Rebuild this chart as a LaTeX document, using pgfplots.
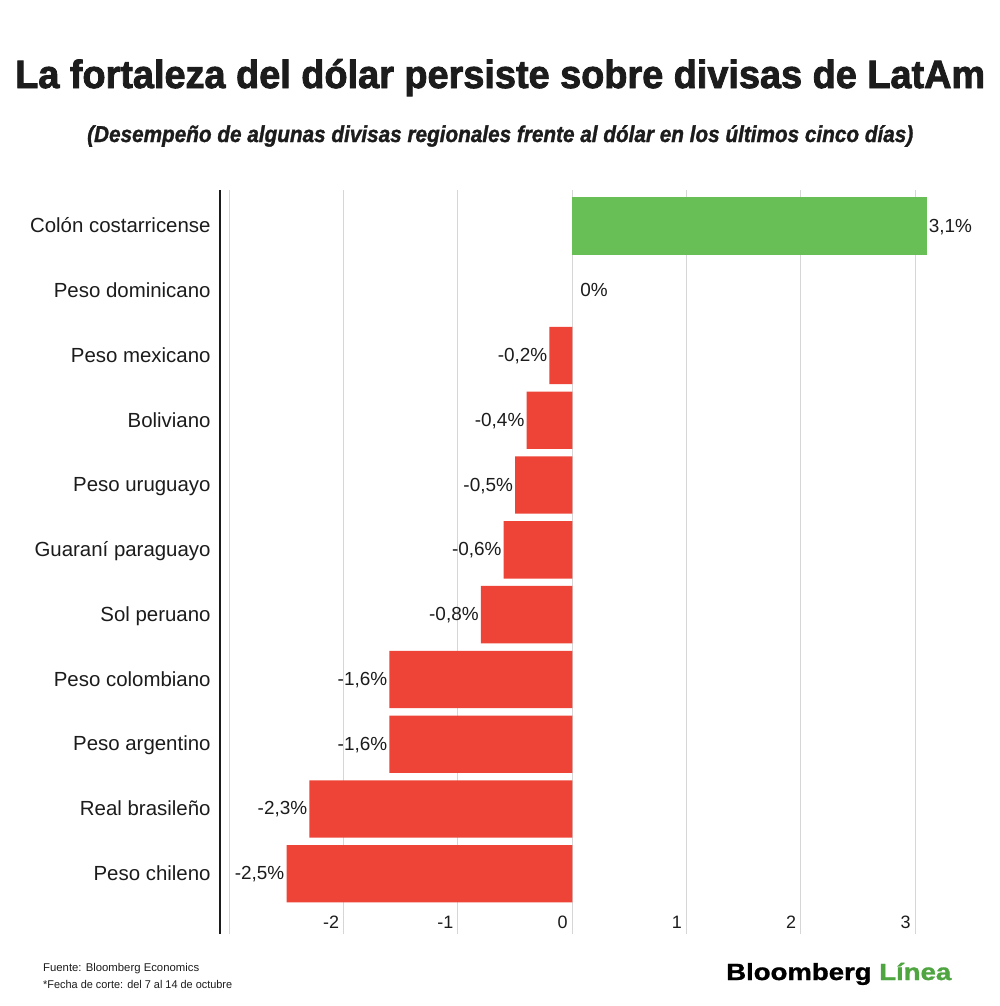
\documentclass[border=0pt]{standalone}
\usepackage{pgfplots}
\pgfplotsset{compat=1.18}
\usepackage{fontspec}
\setmainfont{Liberation Sans}
\newfontfamily\titlefont[FakeBold=2.2]{Liberation Sans Bold}
\newfontfamily\subfont[FakeBold=1.4]{Liberation Sans Bold Italic}
\newfontfamily\logofont[FakeBold=1.2]{Liberation Sans Bold}
\usepackage{graphicx}
\definecolor{barred}{HTML}{EE4438}
\definecolor{bargreen}{HTML}{68BF55}
\definecolor{logogreen}{HTML}{4FA540}
\definecolor{txt}{HTML}{1C1C1C}
\definecolor{gridgray}{HTML}{D6D6D6}
\begin{document}
\begin{tikzpicture}
\path[fill=white] (0,0) rectangle (1000bp,-1006bp);
% title and subtitle
\node[anchor=base west, inner sep=0, text=txt] at (15bp,-88bp)
  {\resizebox{970bp}{\height}{\fontsize{39.5}{39.5}\selectfont\titlefont La fortaleza del dólar persiste sobre divisas de LatAm}};
\node[anchor=base west, inner sep=0, text=txt] at (87bp,-142bp)
  {\resizebox{826bp}{\height}{\fontsize{23}{23}\selectfont\subfont (Desempeño de algunas divisas regionales frente al dólar en los últimos cinco días)}};
\begin{axis}[
  at={(220bp,-934bp)}, anchor=south west,
  scale only axis, width=729.46bp, height=744bp,
  xmin=-3.082, xmax=3.3, ymin=-0.931, ymax=10.556,
  clip=false,
  xbar, bar width=57.3bp, bar shift=0pt,
  separate axis lines,
  axis x line*=bottom, axis y line*=left,
  x axis line style={draw=none},
  y axis line style={draw=txt, line width=2bp, -},
  tick style={draw=none},
  xmajorgrids=true, ymajorgrids=false,
  major grid style={draw=gridgray, line width=1bp},
  xtick={-3,-2,-1,0,1,2,3},
  xticklabels={,-2,-1,0,1,2,3},
  xticklabel style={anchor=base east, inner sep=0pt, xshift=-4.5bp, yshift=6bp,
    font=\fontsize{18}{18}\selectfont, text=txt},
  ytick={0,1,2,3,4,5,6,7,8,9,10},
  yticklabels={Peso chileno,Real brasileño,Peso argentino,Peso colombiano,Sol peruano,Guaraní paraguayo,Peso uruguayo,Boliviano,Peso mexicano,Peso dominicano,Colón costarricense},
  yticklabel style={anchor=base east, inner sep=0pt, xshift=-5bp, yshift=-6.8bp,
    font=\fontsize{20.5}{20.5}\selectfont, text=txt},
  nodes near coords={\pgfplotspointmeta},
  nodes near coords style={font=\fontsize{19}{19}\selectfont, text=txt, inner sep=0pt},
]
\addplot[fill=bargreen, draw=none, point meta=explicit symbolic,
  nodes near coords style={anchor=base west, xshift=2bp, yshift=-6bp}]
  coordinates {(3.1,10) [3,1\%]};
\addplot[draw=none, fill=none, point meta=explicit symbolic,
  nodes near coords style={anchor=base west, xshift=8bp, yshift=-6bp}]
  coordinates {(0,9) [0\%]};
\addplot[fill=barred, draw=none, point meta=explicit symbolic,
  nodes near coords style={anchor=base east, xshift=-2bp, yshift=-6bp}]
  coordinates {
    (-0.2,8) [-0,2\%]
    (-0.4,7) [-0,4\%]
    (-0.5,6) [-0,5\%]
    (-0.6,5) [-0,6\%]
    (-0.8,4) [-0,8\%]
    (-1.6,3) [-1,6\%]
    (-1.6,2) [-1,6\%]
    (-2.3,1) [-2,3\%]
    (-2.5,0) [-2,5\%]
  };
\end{axis}
% footnotes
\node[anchor=base west, inner sep=0, text=txt] at (43bp,-971bp)
  {\resizebox{156bp}{\height}{\fontsize{11.3}{11.3}\selectfont Fuente: Bloomberg Economics}};
\node[anchor=base west, inner sep=0, text=txt] at (43bp,-988bp)
  {\resizebox{189bp}{\height}{\fontsize{11.3}{11.3}\selectfont *Fecha de corte: del 7 al 14 de octubre}};
% logo
\node[anchor=base west, inner sep=0, text=black] at (726bp,-980bp)
  {\resizebox{225bp}{\height}{\fontsize{23.5}{23.5}\selectfont\logofont Bloomberg \textcolor{logogreen}{Línea}}};
\end{tikzpicture}
\end{document}
